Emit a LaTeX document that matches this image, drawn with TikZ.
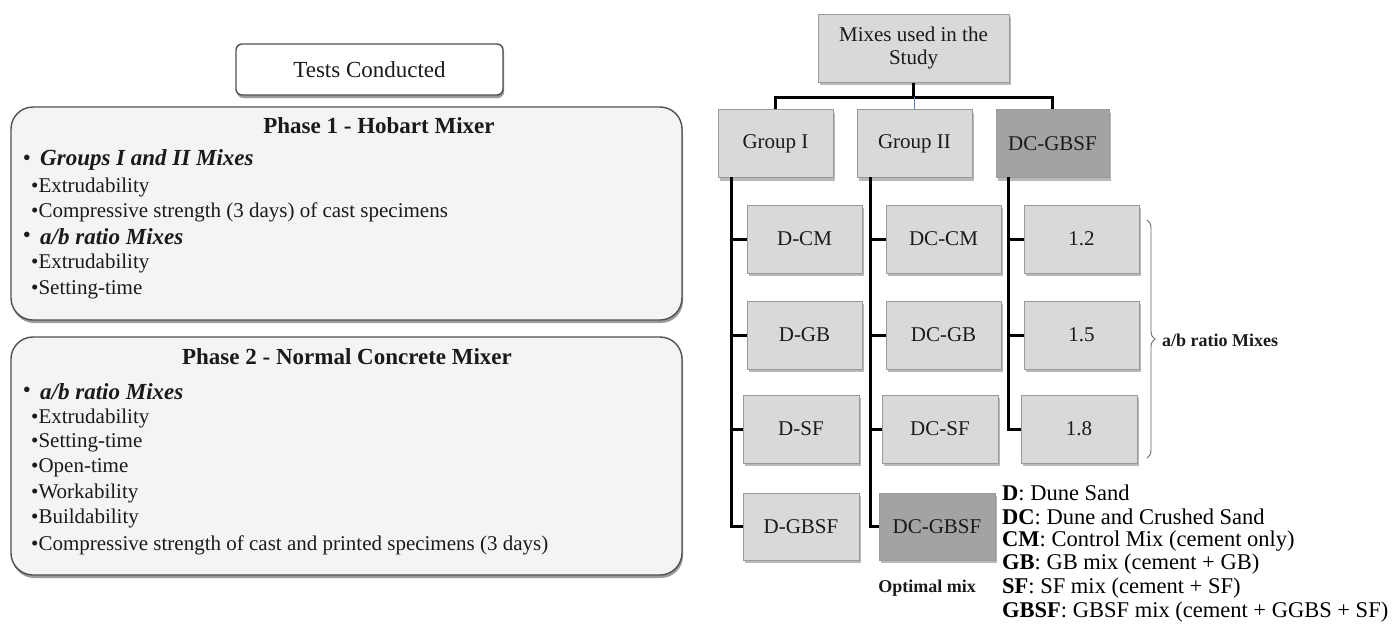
\documentclass[tikz,border=0pt]{standalone}
\usepackage{fontspec}
\setmainfont{Liberation Serif}
\usetikzlibrary{shadows,decorations.pathreplacing,calc}
\definecolor{boxgray}{HTML}{D9D9D9}
\definecolor{boxdark}{HTML}{A3A3A3}
\definecolor{boxedge}{HTML}{999999}
\definecolor{panelfill}{HTML}{F4F4F4}
\definecolor{paneledge}{HTML}{505050}
\definecolor{busblue}{HTML}{5B7FB0}
\definecolor{ink}{HTML}{1A1A1A}
\tikzset{
  mixbox/.style={draw=boxedge, line width=1pt, fill=boxgray, minimum width=115pt, minimum height=68pt,
    inner sep=0pt, text=ink, font=\fontsize{21}{23}\selectfont,
    drop shadow={shadow xshift=2pt, shadow yshift=-3pt, fill=black!50, opacity=0.55}},
  darkbox/.style={mixbox, fill=boxdark},
  link/.style={line width=3pt, black},
  panel/.style={draw=paneledge, line width=1.4pt, fill=panelfill, rounded corners=22pt, inner sep=0pt,
    drop shadow={shadow xshift=1pt, shadow yshift=-3pt, fill=black!60, opacity=0.65}},
  testbox/.style={draw=paneledge, line width=1.4pt, fill=white, rounded corners=6pt, inner sep=0pt,
    minimum width=267pt, minimum height=51pt, font=\fontsize{23}{25}\selectfont, text=ink,
    drop shadow={shadow xshift=1pt, shadow yshift=-3pt, fill=black!60, opacity=0.65}},
  head/.style={inner sep=0pt, text=ink, font=\fontsize{23}{25}\selectfont\bfseries},
  mainitem/.style={anchor=west, inner sep=0pt, text=ink, font=\fontsize{23}{25}\selectfont\bfseries\itshape},
  subitem/.style={anchor=west, inner sep=0pt, text=ink, font=\fontsize{21}{24}\selectfont},
  bul/.style={inner sep=0pt, text=ink, font=\fontsize{23}{25}\selectfont},
  legend/.style={anchor=west, inner sep=0pt, text=black, font=\fontsize{22.5}{24}\selectfont},
  note/.style={inner sep=0pt, text=ink, font=\fontsize{18}{20}\selectfont\bfseries},
}
\begin{document}
\begin{tikzpicture}[x=1pt,y=-1pt]
\useasboundingbox (0,0) rectangle (1393,632);

% ---------- left side ----------
\node[panel, minimum width=671pt, minimum height=213pt] (p1) at (346.5,213.5) {};
\node[panel, minimum width=671pt, minimum height=238pt] (p2) at (346.5,456) {};
\node[testbox] (tc) at (369.5,69.5) {Tests Conducted};

\node[head] (h1) at (379,126) {Phase 1 - Hobart Mixer};
\node[bul] (b1) at (27,160) {\textbullet};
\node[mainitem] (m1) at (40,160) {Groups I and II Mixes};
\node[subitem] (s11) at (31,187) {\textbullet Extrudability};
\node[subitem] (s12) at (31,212) {\textbullet Compressive strength (3 days) of cast specimens};
\node[bul] (b2) at (27,237) {\textbullet};
\node[mainitem] (m2) at (40,237) {a/b ratio Mixes};
\node[subitem] (s13) at (31,263) {\textbullet Extrudability};
\node[subitem] (s14) at (31,290) {\textbullet Setting-time};

\node[head] (h2) at (347,357) {Phase 2 - Normal Concrete Mixer};
\node[bul] (b3) at (27,392) {\textbullet};
\node[mainitem] (m3) at (40,392) {a/b ratio Mixes};
\node[subitem] (s21) at (31,418) {\textbullet Extrudability};
\node[subitem] (s22) at (31,443) {\textbullet Setting-time};
\node[subitem] (s23) at (31,468) {\textbullet Open-time};
\node[subitem] (s24) at (31,493) {\textbullet Workability};
\node[subitem] (s25) at (31,518) {\textbullet Buildability};
\node[subitem] (s26) at (31,545) {\textbullet Compressive strength of cast and printed specimens (3 days)};

% ---------- right side ----------
\node[mixbox, minimum width=191pt, align=center] (top) at (913.5,48) {Mixes used in the\\Study};
\node[mixbox] (g1) at (775.5,143.5) {Group I};
\node[mixbox] (g2) at (914.5,143.5) {Group II};
\node[darkbox, minimum width=113pt] (g3) at (1052.5,143.5) {DC-GBSF};

\node[mixbox] (dcm) at (804.5,239) {D-CM};
\node[mixbox] (dgb) at (804.5,335) {D-GB};
\node[mixbox, minimum width=116pt] (dsf) at (801,429) {D-SF};
\node[mixbox, minimum width=116pt, minimum height=67pt] (dgbsf) at (801,526.5) {D-GBSF};

\node[mixbox] (dccm) at (943.5,239) {DC-CM};
\node[mixbox] (dcgb) at (943.5,335) {DC-GB};
\node[mixbox, minimum width=116pt] (dcsf) at (940,429) {DC-SF};
\node[darkbox, minimum width=116pt, minimum height=67pt] (dcgbsf) at (937,526.5) {DC-GBSF};

\node[mixbox] (r12) at (1081.5,239) {1.2};
\node[mixbox] (r15) at (1081.5,335) {1.5};
\node[mixbox, minimum width=116pt] (r18) at (1079,429) {1.8};

% connectors from the top box
\draw[link] (top.south) -- ++(0,16);
\draw[link] (g1.north) -- ++(0,-12) -| (g3.north);
\draw[busblue, line width=1.3pt] (g2.north) -- ++(0,-12);

% column connectors
\coordinate (c1) at (731,177);
\coordinate (c2) at (870,177);
\coordinate (c3) at (1008,177);
\draw[link] (c1) |- (dgbsf.west);
\draw[link] (dcm.west) -- (dcm.west -| c1);
\draw[link] (dgb.west) -- (dgb.west -| c1);
\draw[link] (dsf.west) -- (dsf.west -| c1);
\draw[link] (c2) |- (dcgbsf.west);
\draw[link] (dccm.west) -- (dccm.west -| c2);
\draw[link] (dcgb.west) -- (dcgb.west -| c2);
\draw[link] (dcsf.west) -- (dcsf.west -| c2);
\draw[link] (c3) |- (r18.west);
\draw[link] (r12.west) -- (r12.west -| c3);
\draw[link] (r15.west) -- (r15.west -| c3);

% brace
\coordinate (bt) at (1147,220);
\coordinate (bb) at (1147,458);
\draw[decorate, decoration={brace, amplitude=8pt}, draw=black!60, line width=0.9pt] (bt) -- (bb);
\node[note, anchor=west] (abm) at (1162,340) {a/b ratio Mixes};

\node[note] (opt) at (927,588) {Optimal mix};

% legend
\node[legend] (l1) at (1002,493) {\textbf{D}: Dune Sand};
\node[legend] (l2) at (1002,517) {\textbf{DC}: Dune and Crushed Sand};
\node[legend] (l3) at (1002,541) {\textbf{CM}: Control Mix (cement only)};
\node[legend] (l4) at (1002,564.5) {\textbf{GB}: GB mix (cement + GB)};
\node[legend] (l5) at (1002,588) {\textbf{SF}: SF mix (cement + SF)};
\node[legend] (l6) at (1002,612) {\textbf{GBSF}: GBSF mix (cement + GGBS + SF)};
\end{tikzpicture}
\end{document}
